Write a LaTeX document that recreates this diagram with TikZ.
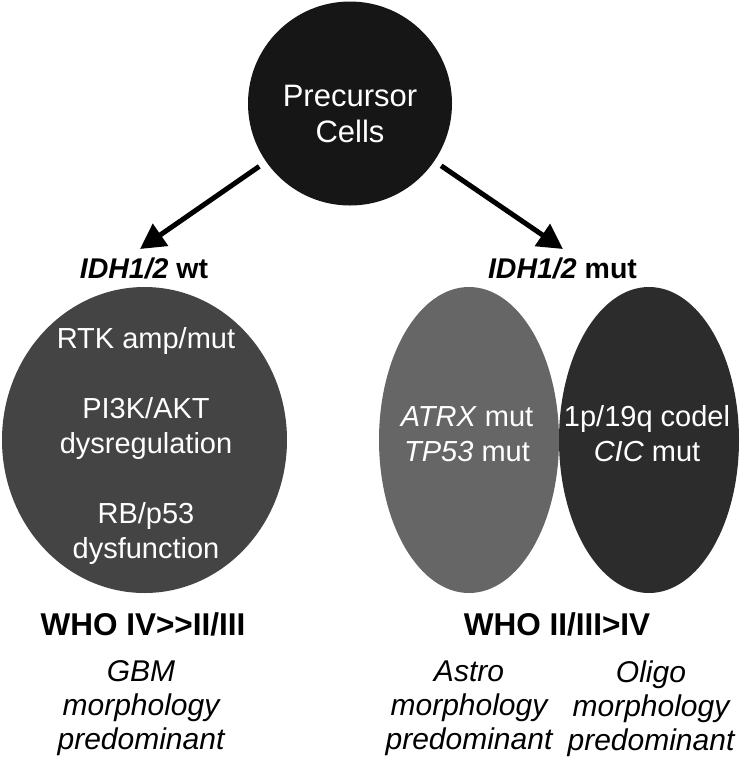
\documentclass[tikz,border=0pt]{standalone}
\usepackage{fontspec}
\setmainfont{Liberation Sans}
\usepackage{xcolor}
\usepackage{tikz}
\usetikzlibrary{shapes.geometric, arrows.meta}
\definecolor{cellblack}{HTML}{161616}
\definecolor{wtgray}{HTML}{444444}
\definecolor{astrogray}{HTML}{666666}
\definecolor{oligogray}{HTML}{2C2C2C}
\tikzstyle{blob}     = [ellipse, inner sep=0pt, draw=none, minimum height=153pt]
\tikzstyle{celltext} = [text=white, align=center, font=\fontsize{14.5}{17.5}\selectfont]
\tikzstyle{idh}      = [anchor=base, font=\bfseries\fontsize{14.25}{17}\selectfont]
\tikzstyle{grade}    = [anchor=base, font=\bfseries\fontsize{15.75}{19}\selectfont]
\tikzstyle{morph}    = [align=center, font=\itshape\fontsize{15}{17}\selectfont]
\tikzstyle{arrow}    = [line width=2.5pt, shorten <=4pt, ->, >={Triangle[length=12.5pt,width=13pt]}]
\tikzset{every node/.style={inner sep=0pt}}

\begin{document}
\begin{tikzpicture}[x=0.5pt, y=-0.5pt]
    \useasboundingbox (0,0) rectangle (744,767);

    % top cell
    \node (pc)     at (350, 103.5) [circle, fill=cellblack, minimum size=102pt] {};
    \node (pctext) at (350, 114)   [celltext, font=\fontsize{15.5}{18}\selectfont] {Precursor\\Cells};

    % IDH wild type branch
    \node (wt)     at (144.5, 440) [blob, fill=wtgray, minimum width=142.5pt] {};
    \node (wttext) at (146, 445.5) [celltext] {RTK amp/mut\\[17.5pt]PI3K/AKT\\dysregulation\\[17.5pt]RB/p53\\dysfunction};

    % IDH mutant branch
    \node (astro)     at (469, 440) [blob, fill=astrogray, minimum width=90pt] {};
    \node (oligo)     at (649, 440) [blob, fill=oligogray, minimum width=90pt] {};
    \node (astrotext) at (467, 434) [celltext] {\textit{ATRX} mut\\\textit{TP53} mut};
    \node (oligotext) at (647, 434) [celltext] {1p/19q codel\\\textit{CIC} mut};

    \node (wtlabel)  at (144, 278)   [idh] {\textit{IDH1/2} wt};
    \node (mutlabel) at (562.5, 278) [idh] {\textit{IDH1/2} mut};

    \coordinate (wttip)  at (140, 249);
    \coordinate (muttip) at (563, 249);
    \draw [arrow] (pc) -- (wttip);
    \draw [arrow] (pc) -- (muttip);

    % grades and morphology
    \node (wtgrade)  at (143, 635) [grade] {WHO IV>\kern0pt>II/III};
    \node (mutgrade) at (557, 635) [grade] {WHO II/III>IV};
    \node (gbm)    at (141, 708.5) [morph] {GBM\\morphology\\predominant};
    \node (astrom) at (469, 708.5) [morph] {Astro\\morphology\\predominant};
    \node (oligom) at (651, 708.5) [morph] {Oligo\\morphology\\predominant};
\end{tikzpicture}
\end{document}
